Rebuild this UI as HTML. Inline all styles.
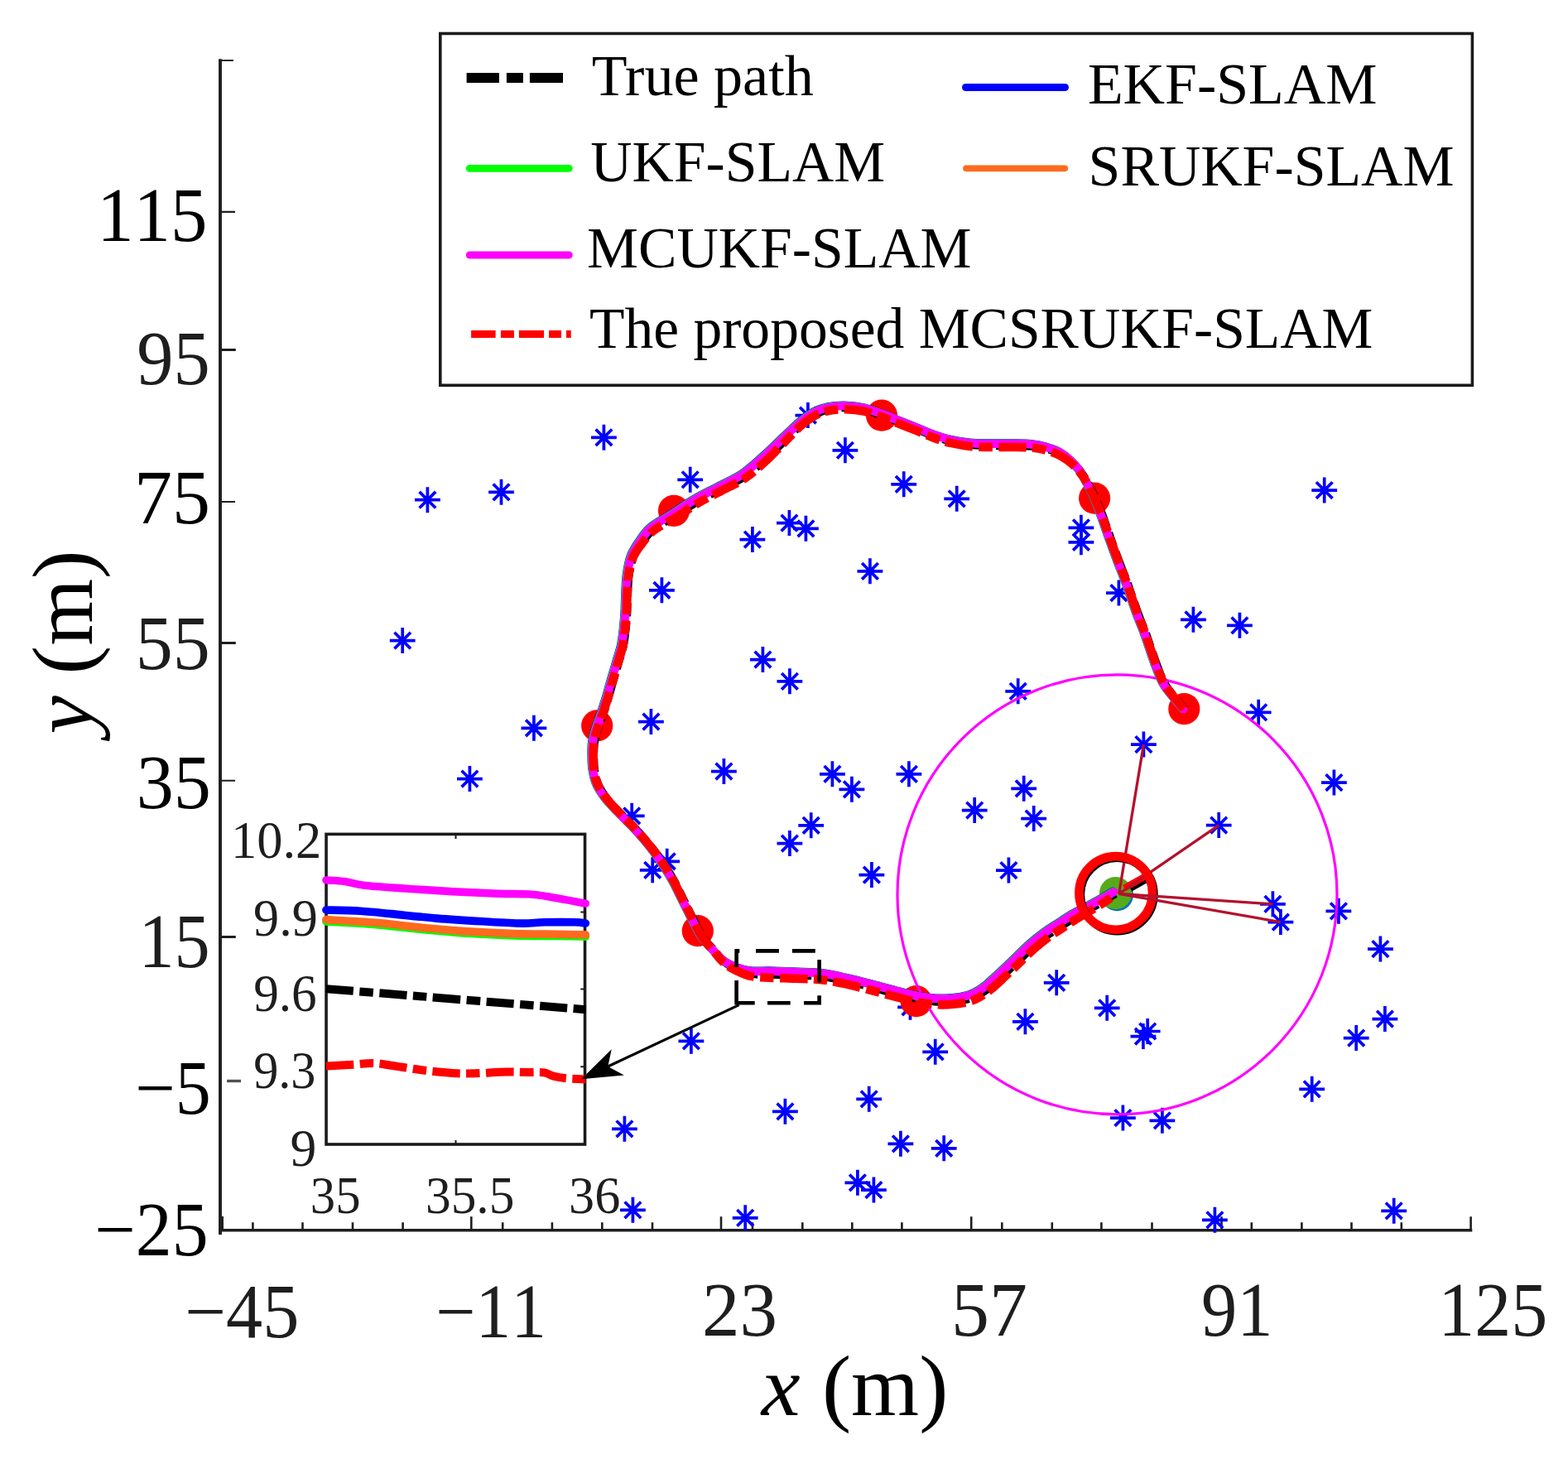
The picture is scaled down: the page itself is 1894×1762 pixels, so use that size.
<!DOCTYPE html>
<html lang="en"><head><meta charset="utf-8"><title>SLAM trajectory comparison</title>
<style>html,body{margin:0;padding:0;background:#fff}body{width:1894px;height:1762px;overflow:hidden}svg{display:block}text{font-family:"Liberation Serif",serif;font-kerning:none}</style>
</head><body>
<svg width="1894" height="1762" viewBox="0 0 1894 1762" role="img" aria-label="Trajectory comparison of SLAM algorithms">
<rect width="1894" height="1762" fill="#fff"/>
<defs><g id="s" stroke="#0000ff" stroke-width="3.7" fill="none"><path d="M-15.4,0H15.4 M0,-15.5 V15.5 M-9.8,-9.8 L9.8,9.8 M-9.8,9.8 L9.8,-9.8"/></g></defs>
<g id="axes" stroke="#1e1e1e" fill="none">
<line x1="266" y1="71.3" x2="266" y2="1491" stroke-width="3.9"/>
<line x1="264.1" y1="1485.7" x2="1778.3" y2="1485.7" stroke-width="3.4"/>
<path d="M267.5,1469V1487" stroke-width="5"/>
<path d="M267,73H282M267,255.9H284M267,606H284M267,942.8H284" stroke-width="2.1"/>
<path d="M267,422.5H284.8M267,776.5H284.8M267,1131.4H284.8" stroke-width="3"/>
<path d="M274.1,1305.5H291" stroke="#505050" stroke-width="3.4"/>
<path d="M305.4,1476.2V1485M365.5,1476.2V1485M426,1476.2V1485M486.6,1476.2V1485M607.2,1476.2V1485M666.9,1476.2V1485M727.3,1476.2V1485M788,1476.2V1485M909,1476.2V1485M969.3,1476.2V1485M1029.3,1476.2V1485M1089.4,1476.2V1485M1210.3,1476.2V1485M1270.8,1476.2V1485M1330.4,1476.2V1485M1391.5,1476.2V1485M1511.8,1476.2V1485M1572.4,1476.2V1485M1632.5,1476.2V1485M1692.8,1476.2V1485M569.3,1469.3V1485M871,1469.3V1485M1173.2,1469.3V1485M1475.5,1469.3V1485M1776.6,1469.3V1485" stroke-width="2.6"/>
</g>
<g id="landmarks">
<use href="#s" x="729.4" y="528.3"/>
<use href="#s" x="516.4" y="603.7"/>
<use href="#s" x="605.5" y="594.3"/>
<use href="#s" x="833.7" y="579.3"/>
<use href="#s" x="908.9" y="651.6"/>
<use href="#s" x="799.4" y="712.8"/>
<use href="#s" x="486.2" y="773.6"/>
<use href="#s" x="921.4" y="796.6"/>
<use href="#s" x="644.9" y="879.3"/>
<use href="#s" x="786.4" y="871.6"/>
<use href="#s" x="975.9" y="501.6"/>
<use href="#s" x="1020.9" y="543.8"/>
<use href="#s" x="1091.7" y="584.8"/>
<use href="#s" x="1155.7" y="602.3"/>
<use href="#s" x="953.4" y="631.6"/>
<use href="#s" x="973.4" y="638.3"/>
<use href="#s" x="1050.9" y="689.8"/>
<use href="#s" x="1305.9" y="637.3"/>
<use href="#s" x="1305.9" y="654.8"/>
<use href="#s" x="1351.4" y="716.1"/>
<use href="#s" x="953.9" y="822.8"/>
<use href="#s" x="1229.7" y="834.8"/>
<use href="#s" x="1599.7" y="592.1"/>
<use href="#s" x="1441.4" y="748.3"/>
<use href="#s" x="1497.4" y="755.3"/>
<use href="#s" x="1520.2" y="860.3"/>
<use href="#s" x="567.4" y="940.6"/>
<use href="#s" x="874.4" y="931.6"/>
<use href="#s" x="763.2" y="985.3"/>
<use href="#s" x="805.7" y="1040.3"/>
<use href="#s" x="788.2" y="1050.8"/>
<use href="#s" x="834.9" y="1257.3"/>
<use href="#s" x="1005.4" y="934.8"/>
<use href="#s" x="1028.9" y="953.3"/>
<use href="#s" x="1097.9" y="934.8"/>
<use href="#s" x="1236.7" y="952.3"/>
<use href="#s" x="1177.2" y="978.6"/>
<use href="#s" x="1248.7" y="988.6"/>
<use href="#s" x="979.7" y="996.8"/>
<use href="#s" x="953.9" y="1018.6"/>
<use href="#s" x="1052.9" y="1056.6"/>
<use href="#s" x="1218.4" y="1051.1"/>
<use href="#s" x="1276.2" y="1186.8"/>
<use href="#s" x="1337.2" y="1217.3"/>
<use href="#s" x="1238.4" y="1233.8"/>
<use href="#s" x="1386.2" y="1245.5"/>
<use href="#s" x="1380.9" y="1251.6"/>
<use href="#s" x="1129.7" y="1270.3"/>
<use href="#s" x="1099.5" y="1216.3"/>
<use href="#s" x="1049.7" y="1327.3"/>
<use href="#s" x="1381.4" y="899.1"/>
<use href="#s" x="1611.4" y="945.1"/>
<use href="#s" x="1472.2" y="996.6"/>
<use href="#s" x="1537.4" y="1091.8"/>
<use href="#s" x="1546.9" y="1113.6"/>
<use href="#s" x="1616.9" y="1100.3"/>
<use href="#s" x="1667.4" y="1146.1"/>
<use href="#s" x="1672.9" y="1230.6"/>
<use href="#s" x="1638.2" y="1253.6"/>
<use href="#s" x="1584.7" y="1315.3"/>
<use href="#s" x="754.4" y="1363.3"/>
<use href="#s" x="764.4" y="1461.3"/>
<use href="#s" x="900.2" y="1470.8"/>
<use href="#s" x="948.4" y="1342.3"/>
<use href="#s" x="1087.9" y="1381.3"/>
<use href="#s" x="1140.2" y="1386.8"/>
<use href="#s" x="1035.9" y="1428.3"/>
<use href="#s" x="1055.4" y="1437.1"/>
<use href="#s" x="1356.4" y="1350.1"/>
<use href="#s" x="1403.9" y="1353.3"/>
<use href="#s" x="1467.4" y="1473.3"/>
<use href="#s" x="1683.7" y="1462.3"/>
</g>
<g fill="#ff0000">
<circle cx="1430.3" cy="856.1" r="19.1"/>
<circle cx="1322.1" cy="601.7" r="19.1"/>
<circle cx="1065" cy="501.7" r="19.1"/>
<circle cx="814" cy="616.8" r="19.1"/>
<circle cx="721.2" cy="876.4" r="19.1"/>
<circle cx="842.8" cy="1124.2" r="19.1"/>
<circle cx="1106.7" cy="1209.2" r="19.1"/>
</g>
<circle cx="1349.5" cy="1080.3" r="265.5" fill="none" stroke="#ff00ff" stroke-width="3.2"/>
<g id="robot-body">
<circle cx="1349.4" cy="1080.6" r="19.6" fill="#0072bd"/>
<circle cx="1347.6" cy="1078.6" r="19.6" fill="#55ab1a"/>
</g>
<g fill="none" stroke-linejoin="round">
<path d="M1431.1,856.5C1430.2,855.5 1428.2,853.3 1426.0,850.7C1423.7,848.1 1420.8,844.9 1417.6,840.7C1414.4,836.5 1410.1,831.8 1406.8,825.7C1403.4,819.6 1401.3,814.0 1397.6,804.0C1393.8,794.0 1388.0,775.9 1384.3,765.6C1380.5,755.3 1378.8,752.5 1375.1,742.2C1371.3,731.9 1365.4,714.2 1361.7,703.9C1357.9,693.6 1356.3,690.5 1352.6,680.5C1348.8,670.5 1342.8,653.8 1339.2,643.8C1335.5,633.8 1333.6,627.5 1330.9,620.4C1328.1,613.4 1326.1,608.7 1322.8,601.5C1319.5,594.4 1315.0,584.4 1310.8,577.6C1306.6,570.7 1302.3,565.2 1297.6,560.4C1292.9,555.6 1287.9,551.9 1282.6,548.9C1277.3,545.9 1271.5,544.0 1265.9,542.3C1260.3,540.6 1256.2,539.6 1249.2,538.9C1242.2,538.2 1232.5,538.2 1224.2,538.1C1215.9,538.0 1207.5,538.2 1199.2,538.1C1190.8,538.0 1182.5,538.1 1174.2,537.3C1165.8,536.5 1156.9,534.9 1149.2,533.1C1141.4,531.3 1134.5,528.9 1127.5,526.4C1120.6,523.9 1115.0,521.1 1107.5,518.1C1100.0,515.0 1089.5,510.9 1082.5,508.1C1075.6,505.4 1072.2,503.8 1065.8,501.6C1059.4,499.4 1051.3,496.4 1044.1,494.8C1036.9,493.2 1029.4,492.4 1022.5,492.3C1015.6,492.2 1008.6,492.7 1002.5,493.9C996.4,495.2 991.3,496.9 985.8,499.8C980.2,502.7 975.3,506.2 969.1,511.4C962.8,516.6 955.8,524.1 948.4,531.3C940.9,538.5 932.5,547.2 924.4,554.6C916.2,561.9 908.3,569.4 899.4,575.4C890.5,581.3 880.5,585.4 871.1,590.4C861.6,595.4 852.0,599.9 842.7,605.4C833.3,610.8 824.0,617.5 815.0,623.2C806.0,628.9 795.6,633.8 788.8,639.4C782.0,645.1 778.2,651.4 774.2,657.0C770.2,662.6 767.2,666.7 764.7,673.1C762.3,679.4 760.7,687.3 759.6,695.1C758.4,703.0 758.4,712.6 758.0,720.1C757.6,727.6 757.7,733.5 757.3,740.1C756.9,746.8 756.3,753.5 755.6,760.1C754.8,766.8 754.2,773.5 752.8,780.1C751.4,786.8 749.0,793.5 747.1,800.1C745.1,806.8 743.3,812.9 741.2,820.1C739.1,827.4 736.7,836.5 734.6,843.4C732.5,850.4 730.8,855.7 728.7,861.8C726.6,868.0 723.9,874.3 722.1,880.1C720.3,886.0 718.7,891.3 717.9,896.8C717.1,902.4 717.1,907.9 717.2,913.5C717.2,919.1 717.2,924.7 718.1,930.3C718.9,935.9 720.0,941.5 722.4,947.1C724.8,952.7 728.3,958.2 732.5,963.8C736.6,969.3 742.2,974.9 747.5,980.4C752.7,986.0 758.8,991.6 764.1,997.1C769.3,1002.7 774.3,1008.2 779.1,1013.7C783.8,1019.3 788.3,1024.8 792.5,1030.4C796.6,1036.0 800.5,1041.5 804.1,1047.1C807.7,1052.6 811.0,1058.1 814.1,1063.7C817.1,1069.2 819.7,1074.8 822.5,1080.3C825.2,1085.9 828.0,1091.5 830.8,1097.0C833.5,1102.6 836.0,1107.8 839.1,1113.6C842.1,1119.4 845.2,1126.3 849.1,1132.0C853.0,1137.7 858.0,1142.8 862.4,1147.8C866.9,1152.8 870.7,1158.1 875.7,1161.9C880.7,1165.8 886.8,1168.8 892.4,1171.1C897.9,1173.5 902.7,1175.2 909.1,1176.1C915.5,1177.1 922.6,1176.5 930.9,1176.8C939.3,1177.1 950.3,1177.4 959.2,1177.7C968.1,1178.0 977.2,1178.1 984.1,1178.6C991.1,1179.0 993.9,1179.2 1000.8,1180.3C1007.7,1181.4 1016.6,1183.2 1025.8,1185.3C1034.9,1187.4 1046.0,1190.3 1055.7,1192.8C1065.4,1195.3 1075.4,1198.1 1084.0,1200.4C1092.6,1202.6 1099.1,1204.6 1107.4,1206.2C1115.6,1207.7 1125.9,1209.2 1133.6,1209.7C1141.2,1210.1 1146.9,1209.7 1153.2,1209.0C1159.5,1208.4 1166.4,1207.2 1171.2,1205.9C1176.1,1204.6 1178.4,1203.5 1182.4,1201.3C1186.4,1199.0 1190.4,1196.4 1195.3,1192.4C1200.2,1188.5 1206.1,1182.9 1211.9,1177.4C1217.7,1172.0 1224.2,1165.8 1230.3,1159.9C1236.4,1154.1 1242.8,1147.6 1248.6,1142.4C1254.4,1137.3 1259.8,1133.2 1265.3,1129.1C1270.9,1125.1 1276.4,1121.9 1281.9,1118.2C1287.5,1114.6 1293.0,1110.9 1298.6,1107.4C1304.3,1104.0 1310.2,1101.0 1315.9,1097.8C1321.6,1094.5 1327.9,1091.2 1333.1,1088.1C1338.3,1085.0 1344.7,1080.7 1347.1,1079.2" stroke="#000" stroke-width="10" stroke-dasharray="33.3 7.4 16.6 7.4" stroke-dashoffset="18"/>
<path d="M1429.5,856.3C1428.7,855.3 1426.7,853.1 1424.4,850.5C1422.2,847.9 1419.2,844.7 1416.0,840.5C1412.8,836.3 1408.5,831.6 1405.2,825.5C1401.9,819.4 1399.8,813.8 1396.0,803.8C1392.2,793.8 1386.5,775.7 1382.7,765.4C1379.0,755.1 1377.3,752.3 1373.5,742.0C1369.7,731.7 1363.9,714.0 1360.1,703.7C1356.4,693.4 1354.8,690.3 1351.0,680.3C1347.2,670.3 1341.2,653.6 1337.6,643.6C1334.0,633.6 1332.0,627.3 1329.3,620.2C1326.6,613.1 1324.6,608.2 1321.3,600.9C1318.0,593.5 1313.5,583.4 1309.3,576.4C1305.2,569.4 1300.8,563.7 1296.1,558.8C1291.4,553.8 1286.5,549.9 1281.2,546.8C1275.9,543.7 1270.1,541.9 1264.5,540.2C1258.9,538.5 1254.7,537.5 1247.8,536.8C1240.8,536.1 1231.1,536.1 1222.7,536.0C1214.4,535.9 1206.1,536.1 1197.7,536.0C1189.4,535.9 1181.0,536.0 1172.7,535.2C1164.4,534.4 1155.5,532.8 1147.7,531.0C1139.9,529.2 1133.0,526.8 1126.1,524.3C1119.1,521.8 1113.5,519.0 1106.0,516.0C1098.5,513.0 1088.0,508.8 1081.0,506.0C1074.1,503.2 1070.7,501.7 1064.3,499.5C1057.9,497.3 1049.8,494.2 1042.6,492.7C1035.4,491.1 1027.9,490.3 1021.0,490.2C1014.0,490.1 1007.1,490.6 1000.9,491.8C994.8,493.1 989.8,494.8 984.2,497.7C978.6,500.6 973.8,504.1 967.5,509.3C961.2,514.5 953.9,521.9 946.2,529.1C938.6,536.3 930.0,545.0 921.7,552.3C913.4,559.6 905.6,567.1 896.7,573.1C887.8,579.1 877.9,583.1 868.4,588.1C859.0,593.1 849.4,597.6 840.0,603.1C830.6,608.6 821.2,615.1 812.3,620.9C803.4,626.7 793.1,631.8 786.4,637.6C779.6,643.4 775.9,649.9 771.9,655.6C767.9,661.4 765.0,665.7 762.6,672.2C760.3,678.7 758.8,686.8 757.7,694.7C756.6,702.6 756.5,712.2 756.1,719.7C755.7,727.2 755.8,733.0 755.4,739.7C755.0,746.4 754.5,753.0 753.7,759.7C753.0,766.4 752.3,773.0 750.9,779.7C749.5,786.4 747.1,793.0 745.2,799.7C743.3,806.4 741.4,812.5 739.3,819.7C737.2,826.9 734.8,836.0 732.7,843.0C730.6,850.0 728.9,855.3 726.8,861.4C724.7,867.5 722.0,873.9 720.2,879.7C718.4,885.5 716.8,890.8 716.0,896.4C715.2,902.0 715.3,907.5 715.4,913.1C715.4,918.8 715.5,924.4 716.4,930.0C717.2,935.6 718.3,941.2 720.7,946.9C723.2,952.5 726.7,958.0 730.9,963.6C735.1,969.2 740.6,974.7 745.9,980.3C751.2,985.8 757.2,991.4 762.5,996.9C767.8,1002.5 772.8,1008.0 777.5,1013.5C782.2,1019.0 786.7,1024.6 790.9,1030.2C795.1,1035.7 798.9,1041.3 802.5,1046.9C806.1,1052.4 809.4,1057.9 812.5,1063.4C815.6,1069.0 818.1,1074.5 820.9,1080.1C823.7,1085.6 826.4,1091.2 829.2,1096.8C832.0,1102.3 834.5,1107.5 837.5,1113.3C840.5,1119.2 843.6,1126.1 847.5,1131.7C851.4,1137.3 856.4,1142.0 860.8,1146.8C865.3,1151.6 869.1,1156.6 874.1,1160.3C879.0,1164.0 885.1,1166.7 890.7,1168.8C896.3,1170.9 901.1,1172.3 907.5,1173.0C914.0,1173.8 921.1,1172.9 929.5,1173.0C937.9,1173.1 948.9,1173.6 957.7,1173.9C966.6,1174.2 975.7,1174.4 982.7,1174.8C989.6,1175.2 992.4,1175.4 999.3,1176.5C1006.2,1177.7 1015.1,1179.5 1024.2,1181.6C1033.4,1183.7 1044.5,1186.6 1054.1,1189.1C1063.8,1191.6 1073.8,1194.4 1082.4,1196.7C1091.0,1198.9 1097.5,1200.9 1105.7,1202.5C1113.9,1204.1 1124.1,1205.6 1131.6,1206.1C1139.2,1206.7 1144.8,1206.2 1151.0,1205.7C1157.1,1205.1 1164.0,1203.9 1168.7,1202.7C1173.4,1201.5 1175.6,1200.5 1179.5,1198.4C1183.3,1196.2 1187.1,1193.7 1192.0,1189.8C1196.9,1185.9 1202.8,1180.2 1208.6,1174.8C1214.4,1169.4 1220.9,1163.1 1227.0,1157.3C1233.1,1151.5 1239.5,1144.9 1245.3,1139.8C1251.1,1134.7 1256.5,1130.5 1262.0,1126.5C1267.5,1122.5 1273.0,1119.2 1278.6,1115.6C1284.1,1112.0 1289.6,1108.2 1295.3,1104.8C1301.0,1101.4 1307.2,1098.5 1313.1,1095.4C1319.0,1092.2 1325.4,1088.9 1330.7,1085.9C1336.1,1082.9 1342.8,1078.7 1345.2,1077.3" stroke="#0000ff" stroke-width="10" stroke-linecap="round" transform="translate(-1.0,-0.7)"/>
<path d="M1429.5,856.3C1428.7,855.3 1426.7,853.1 1424.4,850.5C1422.2,847.9 1419.2,844.7 1416.0,840.5C1412.8,836.3 1408.5,831.6 1405.2,825.5C1401.9,819.4 1399.8,813.8 1396.0,803.8C1392.2,793.8 1386.5,775.7 1382.7,765.4C1379.0,755.1 1377.3,752.3 1373.5,742.0C1369.7,731.7 1363.9,714.0 1360.1,703.7C1356.4,693.4 1354.8,690.3 1351.0,680.3C1347.2,670.3 1341.2,653.6 1337.6,643.6C1334.0,633.6 1332.0,627.3 1329.3,620.2C1326.6,613.1 1324.6,608.2 1321.3,600.9C1318.0,593.5 1313.5,583.4 1309.3,576.4C1305.2,569.4 1300.8,563.7 1296.1,558.8C1291.4,553.8 1286.5,549.9 1281.2,546.8C1275.9,543.7 1270.1,541.9 1264.5,540.2C1258.9,538.5 1254.7,537.5 1247.8,536.8C1240.8,536.1 1231.1,536.1 1222.7,536.0C1214.4,535.9 1206.1,536.1 1197.7,536.0C1189.4,535.9 1181.0,536.0 1172.7,535.2C1164.4,534.4 1155.5,532.8 1147.7,531.0C1139.9,529.2 1133.0,526.8 1126.1,524.3C1119.1,521.8 1113.5,519.0 1106.0,516.0C1098.5,513.0 1088.0,508.8 1081.0,506.0C1074.1,503.2 1070.7,501.7 1064.3,499.5C1057.9,497.3 1049.8,494.2 1042.6,492.7C1035.4,491.1 1027.9,490.3 1021.0,490.2C1014.0,490.1 1007.1,490.6 1000.9,491.8C994.8,493.1 989.8,494.8 984.2,497.7C978.6,500.6 973.8,504.1 967.5,509.3C961.2,514.5 953.9,521.9 946.2,529.1C938.6,536.3 930.0,545.0 921.7,552.3C913.4,559.6 905.6,567.1 896.7,573.1C887.8,579.1 877.9,583.1 868.4,588.1C859.0,593.1 849.4,597.6 840.0,603.1C830.6,608.6 821.2,615.1 812.3,620.9C803.4,626.7 793.1,631.8 786.4,637.6C779.6,643.4 775.9,649.9 771.9,655.6C767.9,661.4 765.0,665.7 762.6,672.2C760.3,678.7 758.8,686.8 757.7,694.7C756.6,702.6 756.5,712.2 756.1,719.7C755.7,727.2 755.8,733.0 755.4,739.7C755.0,746.4 754.5,753.0 753.7,759.7C753.0,766.4 752.3,773.0 750.9,779.7C749.5,786.4 747.1,793.0 745.2,799.7C743.3,806.4 741.4,812.5 739.3,819.7C737.2,826.9 734.8,836.0 732.7,843.0C730.6,850.0 728.9,855.3 726.8,861.4C724.7,867.5 722.0,873.9 720.2,879.7C718.4,885.5 716.8,890.8 716.0,896.4C715.2,902.0 715.3,907.5 715.4,913.1C715.4,918.8 715.5,924.4 716.4,930.0C717.2,935.6 718.3,941.2 720.7,946.9C723.2,952.5 726.7,958.0 730.9,963.6C735.1,969.2 740.6,974.7 745.9,980.3C751.2,985.8 757.2,991.4 762.5,996.9C767.8,1002.5 772.8,1008.0 777.5,1013.5C782.2,1019.0 786.7,1024.6 790.9,1030.2C795.1,1035.7 798.9,1041.3 802.5,1046.9C806.1,1052.4 809.4,1057.9 812.5,1063.4C815.6,1069.0 818.1,1074.5 820.9,1080.1C823.7,1085.6 826.4,1091.2 829.2,1096.8C832.0,1102.3 834.5,1107.5 837.5,1113.3C840.5,1119.2 843.6,1126.1 847.5,1131.7C851.4,1137.3 856.4,1142.0 860.8,1146.8C865.3,1151.6 869.1,1156.6 874.1,1160.3C879.0,1164.0 885.1,1166.7 890.7,1168.8C896.3,1170.9 901.1,1172.3 907.5,1173.0C914.0,1173.8 921.1,1172.9 929.5,1173.0C937.9,1173.1 948.9,1173.6 957.7,1173.9C966.6,1174.2 975.7,1174.4 982.7,1174.8C989.6,1175.2 992.4,1175.4 999.3,1176.5C1006.2,1177.7 1015.1,1179.5 1024.2,1181.6C1033.4,1183.7 1044.5,1186.6 1054.1,1189.1C1063.8,1191.6 1073.8,1194.4 1082.4,1196.7C1091.0,1198.9 1097.5,1200.9 1105.7,1202.5C1113.9,1204.1 1124.1,1205.6 1131.6,1206.1C1139.2,1206.7 1144.8,1206.2 1151.0,1205.7C1157.1,1205.1 1164.0,1203.9 1168.7,1202.7C1173.4,1201.5 1175.6,1200.5 1179.5,1198.4C1183.3,1196.2 1187.1,1193.7 1192.0,1189.8C1196.9,1185.9 1202.8,1180.2 1208.6,1174.8C1214.4,1169.4 1220.9,1163.1 1227.0,1157.3C1233.1,1151.5 1239.5,1144.9 1245.3,1139.8C1251.1,1134.7 1256.5,1130.5 1262.0,1126.5C1267.5,1122.5 1273.0,1119.2 1278.6,1115.6C1284.1,1112.0 1289.6,1108.2 1295.3,1104.8C1301.0,1101.4 1307.2,1098.5 1313.1,1095.4C1319.0,1092.2 1325.4,1088.9 1330.7,1085.9C1336.1,1082.9 1342.8,1078.7 1345.2,1077.3" stroke="#00ff00" stroke-width="10" stroke-linecap="round" transform="translate(-0.6,-0.2)"/>
<path d="M1429.5,856.3C1428.7,855.3 1426.7,853.1 1424.4,850.5C1422.2,847.9 1419.2,844.7 1416.0,840.5C1412.8,836.3 1408.5,831.6 1405.2,825.5C1401.9,819.4 1399.8,813.8 1396.0,803.8C1392.2,793.8 1386.5,775.7 1382.7,765.4C1379.0,755.1 1377.3,752.3 1373.5,742.0C1369.7,731.7 1363.9,714.0 1360.1,703.7C1356.4,693.4 1354.8,690.3 1351.0,680.3C1347.2,670.3 1341.2,653.6 1337.6,643.6C1334.0,633.6 1332.0,627.3 1329.3,620.2C1326.6,613.1 1324.6,608.2 1321.3,600.9C1318.0,593.5 1313.5,583.4 1309.3,576.4C1305.2,569.4 1300.8,563.7 1296.1,558.8C1291.4,553.8 1286.5,549.9 1281.2,546.8C1275.9,543.7 1270.1,541.9 1264.5,540.2C1258.9,538.5 1254.7,537.5 1247.8,536.8C1240.8,536.1 1231.1,536.1 1222.7,536.0C1214.4,535.9 1206.1,536.1 1197.7,536.0C1189.4,535.9 1181.0,536.0 1172.7,535.2C1164.4,534.4 1155.5,532.8 1147.7,531.0C1139.9,529.2 1133.0,526.8 1126.1,524.3C1119.1,521.8 1113.5,519.0 1106.0,516.0C1098.5,513.0 1088.0,508.8 1081.0,506.0C1074.1,503.2 1070.7,501.7 1064.3,499.5C1057.9,497.3 1049.8,494.2 1042.6,492.7C1035.4,491.1 1027.9,490.3 1021.0,490.2C1014.0,490.1 1007.1,490.6 1000.9,491.8C994.8,493.1 989.8,494.8 984.2,497.7C978.6,500.6 973.8,504.1 967.5,509.3C961.2,514.5 953.9,521.9 946.2,529.1C938.6,536.3 930.0,545.0 921.7,552.3C913.4,559.6 905.6,567.1 896.7,573.1C887.8,579.1 877.9,583.1 868.4,588.1C859.0,593.1 849.4,597.6 840.0,603.1C830.6,608.6 821.2,615.1 812.3,620.9C803.4,626.7 793.1,631.8 786.4,637.6C779.6,643.4 775.9,649.9 771.9,655.6C767.9,661.4 765.0,665.7 762.6,672.2C760.3,678.7 758.8,686.8 757.7,694.7C756.6,702.6 756.5,712.2 756.1,719.7C755.7,727.2 755.8,733.0 755.4,739.7C755.0,746.4 754.5,753.0 753.7,759.7C753.0,766.4 752.3,773.0 750.9,779.7C749.5,786.4 747.1,793.0 745.2,799.7C743.3,806.4 741.4,812.5 739.3,819.7C737.2,826.9 734.8,836.0 732.7,843.0C730.6,850.0 728.9,855.3 726.8,861.4C724.7,867.5 722.0,873.9 720.2,879.7C718.4,885.5 716.8,890.8 716.0,896.4C715.2,902.0 715.3,907.5 715.4,913.1C715.4,918.8 715.5,924.4 716.4,930.0C717.2,935.6 718.3,941.2 720.7,946.9C723.2,952.5 726.7,958.0 730.9,963.6C735.1,969.2 740.6,974.7 745.9,980.3C751.2,985.8 757.2,991.4 762.5,996.9C767.8,1002.5 772.8,1008.0 777.5,1013.5C782.2,1019.0 786.7,1024.6 790.9,1030.2C795.1,1035.7 798.9,1041.3 802.5,1046.9C806.1,1052.4 809.4,1057.9 812.5,1063.4C815.6,1069.0 818.1,1074.5 820.9,1080.1C823.7,1085.6 826.4,1091.2 829.2,1096.8C832.0,1102.3 834.5,1107.5 837.5,1113.3C840.5,1119.2 843.6,1126.1 847.5,1131.7C851.4,1137.3 856.4,1142.0 860.8,1146.8C865.3,1151.6 869.1,1156.6 874.1,1160.3C879.0,1164.0 885.1,1166.7 890.7,1168.8C896.3,1170.9 901.1,1172.3 907.5,1173.0C914.0,1173.8 921.1,1172.9 929.5,1173.0C937.9,1173.1 948.9,1173.6 957.7,1173.9C966.6,1174.2 975.7,1174.4 982.7,1174.8C989.6,1175.2 992.4,1175.4 999.3,1176.5C1006.2,1177.7 1015.1,1179.5 1024.2,1181.6C1033.4,1183.7 1044.5,1186.6 1054.1,1189.1C1063.8,1191.6 1073.8,1194.4 1082.4,1196.7C1091.0,1198.9 1097.5,1200.9 1105.7,1202.5C1113.9,1204.1 1124.1,1205.6 1131.6,1206.1C1139.2,1206.7 1144.8,1206.2 1151.0,1205.7C1157.1,1205.1 1164.0,1203.9 1168.7,1202.7C1173.4,1201.5 1175.6,1200.5 1179.5,1198.4C1183.3,1196.2 1187.1,1193.7 1192.0,1189.8C1196.9,1185.9 1202.8,1180.2 1208.6,1174.8C1214.4,1169.4 1220.9,1163.1 1227.0,1157.3C1233.1,1151.5 1239.5,1144.9 1245.3,1139.8C1251.1,1134.7 1256.5,1130.5 1262.0,1126.5C1267.5,1122.5 1273.0,1119.2 1278.6,1115.6C1284.1,1112.0 1289.6,1108.2 1295.3,1104.8C1301.0,1101.4 1307.2,1098.5 1313.1,1095.4C1319.0,1092.2 1325.4,1088.9 1330.7,1085.9C1336.1,1082.9 1342.8,1078.7 1345.2,1077.3" stroke="#ff00ff" stroke-width="10" stroke-linecap="round"/>
<path d="M1430.3,856.1C1429.5,855.1 1427.5,852.9 1425.2,850.3C1423.0,847.7 1420.0,844.5 1416.8,840.3C1413.6,836.1 1409.3,831.4 1406.0,825.3C1402.7,819.2 1400.5,813.6 1396.8,803.6C1393.0,793.6 1387.2,775.5 1383.5,765.2C1379.8,754.9 1378.1,752.1 1374.3,741.8C1370.5,731.5 1364.7,713.8 1360.9,703.5C1357.2,693.2 1355.5,690.1 1351.8,680.1C1348.0,670.1 1342.0,653.4 1338.4,643.4C1334.8,633.4 1332.8,627.0 1330.1,620.0C1327.4,613.0 1325.3,608.7 1322.0,601.7C1318.7,594.8 1314.2,585.0 1310.0,578.3C1305.8,571.6 1301.4,566.3 1296.7,561.7C1292.0,557.1 1287.0,553.7 1281.7,550.8C1276.4,547.9 1270.6,545.9 1265.0,544.2C1259.4,542.5 1255.2,541.5 1248.3,540.8C1241.3,540.1 1231.6,540.1 1223.3,540.0C1215.0,539.9 1206.6,540.1 1198.3,540.0C1190.0,539.9 1181.6,540.0 1173.3,539.2C1165.0,538.4 1156.1,536.8 1148.3,535.0C1140.5,533.2 1133.6,530.8 1126.7,528.3C1119.8,525.8 1114.2,523.0 1106.7,520.0C1099.2,517.0 1088.7,512.8 1081.7,510.0C1074.8,507.2 1071.4,505.7 1065.0,503.5C1058.6,501.3 1050.5,498.2 1043.3,496.7C1036.1,495.1 1028.6,494.3 1021.7,494.2C1014.8,494.1 1007.8,494.6 1001.7,495.8C995.6,497.1 990.6,498.8 985.0,501.7C979.4,504.6 974.4,508.0 968.3,513.3C962.2,518.6 955.5,526.1 948.3,533.3C941.1,540.5 933.0,549.3 925.0,556.7C917.0,564.1 908.9,571.5 900.0,577.5C891.1,583.5 881.2,587.5 871.7,592.5C862.2,597.5 852.6,602.0 843.3,607.5C833.9,613.0 824.6,619.7 815.6,625.3C806.6,630.9 796.1,635.5 789.2,641.0C782.3,646.5 778.4,652.6 774.3,658.0C770.2,663.4 767.1,667.3 764.6,673.5C762.1,679.7 760.4,687.2 759.2,695.0C758.0,702.8 758.0,712.5 757.6,720.0C757.2,727.5 757.3,733.3 756.9,740.0C756.5,746.7 756.0,753.3 755.2,760.0C754.5,766.7 753.8,773.3 752.4,780.0C751.0,786.7 748.6,793.3 746.7,800.0C744.8,806.7 742.9,812.8 740.8,820.0C738.7,827.2 736.3,836.3 734.2,843.3C732.1,850.2 730.4,855.6 728.3,861.7C726.2,867.8 723.5,874.2 721.7,880.0C719.9,885.8 718.3,891.2 717.5,896.7C716.7,902.2 716.7,907.8 716.7,913.3C716.7,918.8 716.7,924.4 717.5,930.0C718.3,935.6 719.3,941.2 721.7,946.7C724.1,952.2 727.5,957.8 731.7,963.3C735.9,968.8 741.4,974.4 746.7,980.0C752.0,985.6 758.0,991.2 763.3,996.7C768.6,1002.2 773.6,1007.8 778.3,1013.3C783.0,1018.8 787.5,1024.4 791.7,1030.0C795.9,1035.6 799.7,1041.2 803.3,1046.7C806.9,1052.2 810.2,1057.8 813.3,1063.3C816.4,1068.8 818.9,1074.4 821.7,1080.0C824.5,1085.6 827.2,1091.2 830.0,1096.7C832.8,1102.2 835.2,1107.5 838.3,1113.3C841.3,1119.1 844.4,1125.9 848.3,1131.7C852.2,1137.5 857.2,1143.0 861.7,1148.3C866.2,1153.6 870.0,1159.1 875.0,1163.3C880.0,1167.5 886.2,1170.6 891.7,1173.3C897.2,1176.0 901.9,1178.0 908.3,1179.2C914.7,1180.5 921.7,1180.4 930.0,1180.8C938.3,1181.2 949.4,1181.4 958.3,1181.7C967.2,1182.0 976.3,1182.1 983.3,1182.5C990.2,1182.9 993.0,1183.1 1000.0,1184.2C1007.0,1185.3 1015.8,1187.1 1025.0,1189.2C1034.2,1191.3 1045.3,1194.2 1055.0,1196.7C1064.7,1199.2 1074.7,1202.0 1083.3,1204.2C1091.9,1206.4 1098.4,1208.5 1106.7,1210.0C1115.0,1211.5 1125.5,1212.9 1133.3,1213.3C1141.1,1213.7 1146.9,1213.2 1153.3,1212.5C1159.7,1211.8 1166.7,1210.6 1171.7,1209.2C1176.7,1207.8 1179.1,1206.6 1183.3,1204.2C1187.5,1201.8 1191.7,1199.0 1196.7,1195.0C1201.7,1191.0 1207.5,1185.4 1213.3,1180.0C1219.1,1174.6 1225.6,1168.3 1231.7,1162.5C1237.8,1156.7 1244.2,1150.1 1250.0,1145.0C1255.8,1139.9 1261.2,1135.7 1266.7,1131.7C1272.2,1127.7 1277.8,1124.4 1283.3,1120.8C1288.8,1117.2 1294.4,1113.5 1300.0,1110.0C1305.6,1106.5 1311.2,1103.3 1316.7,1100.0C1322.2,1096.7 1328.3,1093.2 1333.3,1090.0C1338.3,1086.8 1344.5,1082.3 1346.7,1080.8" stroke="#ff0000" stroke-width="10.5" stroke-dasharray="33.3 7.4 16.6 7.4"/>
</g>
<g id="robot" fill="none">
<g stroke="#b5102d" stroke-width="3.3">
<line x1="1351.6" y1="1079.4" x2="1381.4" y2="899.1"/>
<line x1="1351.6" y1="1079.4" x2="1472.2" y2="996.6"/>
</g>
<circle cx="1349.4" cy="1080.2" r="44.3" stroke="#000" stroke-width="10"/>
<line x1="1366" y1="1074.2" x2="1385" y2="1063.6" stroke="#000" stroke-width="5"/>
<line x1="1358" y1="1072.5" x2="1383.5" y2="1058.2" stroke="#ff0000" stroke-width="8"/>
<circle cx="1347.7" cy="1078.4" r="44.3" stroke="#ff0000" stroke-width="10.6"/>
<g stroke="#b5102d" stroke-width="3.3">
<line x1="1351.6" y1="1079.4" x2="1537.4" y2="1091.8"/>
<line x1="1351.6" y1="1079.4" x2="1546.9" y2="1113.6"/>
<line x1="1360" y1="1073.6" x2="1381" y2="1059.2"/>
</g>
</g>
<g id="inset" fill="none">
<rect x="394.05" y="1007.4" width="312.5" height="374.6" stroke="#1a1a1a" stroke-width="3.6"/>
<path stroke="#1a1a1a" stroke-width="2" d="M550.5,1009V1013M550.5,1377V1381M701.3,1101.4H705M701.3,1194.6H705M701.3,1288.3H705"/>
<path d="M393.9,1112.9C403.9,1113.5 434.7,1115.0 454.0,1116.6C473.3,1118.2 491.0,1120.7 509.5,1122.5C528.0,1124.3 546.5,1126.0 565.0,1127.2C583.5,1128.4 602.0,1129.3 620.5,1129.9C639.0,1130.4 661.5,1130.3 676.0,1130.5C690.5,1130.7 702.2,1131.1 707.4,1131.2" stroke="#00ff00" stroke-width="9.6" stroke-linecap="round"/>
<path d="M393.9,1110.6C403.9,1111.2 434.7,1112.7 454.0,1114.3C473.3,1115.9 491.0,1118.4 509.5,1120.2C528.0,1122.0 546.5,1123.7 565.0,1124.9C583.5,1126.1 602.0,1127.0 620.5,1127.6C639.0,1128.1 661.5,1128.0 676.0,1128.2C690.5,1128.4 702.2,1128.8 707.4,1128.9" stroke="#ff6a1f" stroke-width="9.6" stroke-linecap="round"/>
<path d="M393.9,1099.0C400.8,1099.2 422.4,1099.5 435.5,1100.3C448.6,1101.1 457.1,1102.1 472.5,1103.6C487.9,1105.1 509.5,1107.6 528.0,1109.1C546.5,1110.6 566.5,1111.8 583.5,1112.8C600.5,1113.8 617.4,1114.9 629.7,1115.1C642.0,1115.3 646.7,1114.0 657.5,1113.8C668.3,1113.6 686.2,1113.6 694.5,1113.8C702.8,1114.0 705.2,1114.9 707.4,1115.1" stroke="#0000ff" stroke-width="9.6" stroke-linecap="round"/>
<path d="M393.9,1062.9C397.8,1063.2 409.1,1063.6 417.0,1064.7C424.9,1065.8 428.7,1068.0 441.0,1069.4C453.3,1070.8 473.4,1071.9 491.0,1073.1C508.6,1074.3 528.0,1075.8 546.5,1076.8C565.0,1077.8 586.6,1078.7 602.0,1079.2C617.4,1079.7 628.2,1079.2 639.0,1079.9C649.8,1080.6 655.3,1081.7 666.7,1083.6C678.1,1085.5 700.6,1089.9 707.4,1091.2" stroke="#ff00ff" stroke-width="9.4" stroke-linecap="round"/>
<path d="M393.9,1194.2C446.1,1198.4 655.1,1215.0 707.4,1219.2" stroke="#000" stroke-width="10" stroke-dasharray="33.3 7.4 16.6 7.4"/>
<path d="M393.9,1287.6C399.3,1287.3 416.8,1286.4 426.2,1285.8C435.6,1285.2 442.6,1283.8 450.3,1283.9C458.0,1284.1 462.6,1285.3 472.5,1286.7C482.4,1288.1 497.2,1290.8 509.5,1292.3C521.8,1293.8 535.7,1295.3 546.5,1296.0C557.3,1296.7 563.4,1296.5 574.2,1296.3C585.0,1296.0 600.4,1294.7 611.2,1294.5C622.0,1294.3 631.3,1294.8 639.0,1295.0C646.7,1295.2 652.6,1294.6 657.5,1295.4C662.4,1296.2 664.0,1298.5 668.6,1299.7C673.2,1300.9 678.7,1301.8 685.2,1302.4C691.7,1303.0 703.7,1303.2 707.4,1303.4" stroke="#ff0000" stroke-width="10" stroke-dasharray="33.3 7.4 16.6 7.4"/>
</g>
<g id="zoombox" stroke="#000" fill="none">
<path stroke-width="4.6" d="M887.3,1148.4H893.3M913,1148.4H940.9M956.9,1148.4H984.8M989.6,1159V1186.6M989.6,1202.3V1213.6M887.3,1211.3H911.7M927,1211.3H954.7M971,1211.3H992M889.6,1146V1168M889.6,1184V1213.6"/>
<line x1="892.7" y1="1213.6" x2="734.3" y2="1288" stroke-width="3.2"/>
<polygon points="702.2,1303.2 738.7,1267.2 734.3,1288 753.9,1298.4" fill="#000" stroke="none"/>
</g>
<g id="legend">
<rect x="531.8" y="40.5" width="1246.6" height="424.8" fill="#fff" stroke="#1a1a1a" stroke-width="3.6"/>
<path d="M563.6,94H602.9M611.9,94H631.9M639.9,94H680" stroke="#000" stroke-width="12" fill="none"/>
<line x1="567.2" y1="203.3" x2="687.3" y2="203.3" stroke="#00ff00" stroke-width="8.8" stroke-linecap="round"/>
<line x1="567.4" y1="308" x2="687.1" y2="308" stroke="#ff00ff" stroke-width="9.2" stroke-linecap="round"/>
<path d="M569.1,403.4H598.6M604.9,403.4H620.9M626.9,403.4H657M663,403.4H678M684,403.4H689.7" stroke="#ff0000" stroke-width="9" fill="none"/>
<line x1="1166.6" y1="105.5" x2="1286.4" y2="105.5" stroke="#0000ff" stroke-width="9.2" stroke-linecap="round"/>
<line x1="1167" y1="203.3" x2="1286.2" y2="203.3" stroke="#ff6a1f" stroke-width="7.7" stroke-linecap="round"/>
</g>
<g id="labels">
<text x="117.2" y="291.2" font-size="93" fill="#000" textLength="133.2" lengthAdjust="spacingAndGlyphs">115</text>
<text x="165.2" y="464.3" font-size="93" fill="#1e1e1e" textLength="88.5" lengthAdjust="spacingAndGlyphs">95</text>
<text x="162.0" y="632.4" font-size="93" fill="#000" textLength="91.9" lengthAdjust="spacingAndGlyphs">75</text>
<text x="163.8" y="808.3" font-size="93" fill="#1e1e1e" textLength="90.0" lengthAdjust="spacingAndGlyphs">55</text>
<text x="164.7" y="976.4" font-size="93" fill="#000" textLength="90.2" lengthAdjust="spacingAndGlyphs">35</text>
<text x="167.4" y="1168.3" font-size="93" fill="#1e1e1e" textLength="86.2" lengthAdjust="spacingAndGlyphs">15</text>
<text x="163.3" y="1345.1" font-size="93" fill="#000" textLength="91.4" lengthAdjust="spacingAndGlyphs">−5</text>
<text x="114.3" y="1516.4" font-size="93" fill="#000" textLength="137.2" lengthAdjust="spacingAndGlyphs">−25</text>
<text x="223.3" y="1615.1" font-size="93" fill="#1e1e1e" textLength="138.1" lengthAdjust="spacingAndGlyphs">−45</text>
<text x="526.3" y="1615.2" font-size="93" fill="#1e1e1e" textLength="133.7" lengthAdjust="spacingAndGlyphs">−11</text>
<text x="848.1" y="1613.3" font-size="93" fill="#1e1e1e" textLength="91.0" lengthAdjust="spacingAndGlyphs">23</text>
<text x="1149.0" y="1613.3" font-size="93" fill="#1e1e1e" textLength="91.8" lengthAdjust="spacingAndGlyphs">57</text>
<text x="1451.1" y="1613.3" font-size="93" fill="#1e1e1e" textLength="86.5" lengthAdjust="spacingAndGlyphs">91</text>
<text x="1737.3" y="1613.3" font-size="93" fill="#1e1e1e" textLength="132.1" lengthAdjust="spacingAndGlyphs">125</text>
<text x="279.0" y="1035.6" font-size="63" fill="#1e1e1e" textLength="109.3" lengthAdjust="spacingAndGlyphs">10.2</text>
<text x="306.1" y="1129.8" font-size="63" fill="#1e1e1e" textLength="77.6" lengthAdjust="spacingAndGlyphs">9.9</text>
<text x="306.2" y="1221.3" font-size="63" fill="#1e1e1e" textLength="76.5" lengthAdjust="spacingAndGlyphs">9.6</text>
<text x="306.2" y="1313.8" font-size="63" fill="#1e1e1e" textLength="75.3" lengthAdjust="spacingAndGlyphs">9.3</text>
<text x="350.6" y="1408.3" font-size="63" fill="#1e1e1e" textLength="31.8" lengthAdjust="spacingAndGlyphs">9</text>
<text x="374.8" y="1465.3" font-size="63" fill="#1e1e1e" textLength="60.7" lengthAdjust="spacingAndGlyphs">35</text>
<text x="514.0" y="1465.3" font-size="63" fill="#1e1e1e" textLength="107.3" lengthAdjust="spacingAndGlyphs">35.5</text>
<text x="687.1" y="1465.3" font-size="63" fill="#1e1e1e" textLength="62.2" lengthAdjust="spacingAndGlyphs">36</text>
<text x="714.8" y="114.9" font-size="70" fill="#000" textLength="267.9" lengthAdjust="spacingAndGlyphs" style="font-kerning:normal">True path</text>
<text x="713.3" y="218.7" font-size="70" fill="#000" textLength="355.8" lengthAdjust="spacingAndGlyphs" style="font-kerning:normal">UKF-SLAM</text>
<text x="709.0" y="323.3" font-size="70" fill="#000" textLength="464.5" lengthAdjust="spacingAndGlyphs" style="font-kerning:normal">MCUKF-SLAM</text>
<text x="712.0" y="420.4" font-size="70" fill="#000" textLength="946.3" lengthAdjust="spacingAndGlyphs" style="font-kerning:normal">The proposed MCSRUKF-SLAM</text>
<text x="1313.9" y="125.1" font-size="70" fill="#000" textLength="349.6" lengthAdjust="spacingAndGlyphs" style="font-kerning:normal">EKF-SLAM</text>
<text x="1314.6" y="224.0" font-size="70" fill="#000" textLength="441.8" lengthAdjust="spacingAndGlyphs" style="font-kerning:normal">SRUKF-SLAM</text>
<text x="919.8" y="1709.4" font-size="104" fill="#000" textLength="225.5" lengthAdjust="spacingAndGlyphs"><tspan font-style="italic">x</tspan> (m)</text>
<text transform="translate(110.8,886.5) rotate(-90)" font-size="104" fill="#000" textLength="222.1" lengthAdjust="spacingAndGlyphs"><tspan font-style="italic">y</tspan> (m)</text>
</g>
</svg>
</body></html>
